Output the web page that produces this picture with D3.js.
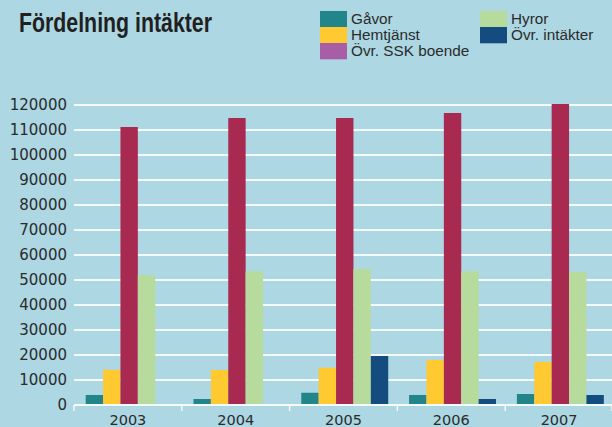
<!DOCTYPE html>
<html>
<head>
<meta charset="utf-8">
<script src="https://cdn.jsdelivr.net/npm/d3@7"></script>
<style>
    body { margin: 0; background: #acd7e3; }
    svg { display: block; }
</style>
</head>
<body>
<div id="chart-container"></div>
<script>
// data
var years = ["2003", "2004", "2005", "2006", "2007"];
var series = ["Gåvor", "Hemtjänst", "Övr. SSK boende", "Hyror", "Övr. intäkter"];
var gavor = [4000, 2400, 4900, 4000, 4400];
var hemtjanst = [14100, 14000, 14900, 18000, 17200];
var ssk = [111200, 114800, 114800, 116800, 120400];
var hyror = [52000, 53500, 54400, 53500, 53200];
var ovrigt = [400, 400, 19600, 2400, 4000];
var yTicks = [0, 10000, 20000, 30000, 40000, 50000, 60000, 70000, 80000, 90000, 100000, 110000, 120000];

var barColors = ["#22858a", "#fec931", "#a92a50", "#b6db9c", "#144c80"];
// legend swatch for SSK boende is purple in the original
var legendColors = ["#22858a", "#fec931", "#a85ea6", "#b6db9c", "#144c80"];

var values = [gavor, hemtjanst, ssk, hyror, ovrigt];

var width = 612, height = 427;
var svg = d3.select("#chart-container").append("svg")
    .attr("width", width)
    .attr("height", height);

svg.append("rect")
    .attr("width", width)
    .attr("height", height)
    .attr("fill", "#acd7e3");

// title
svg.append("text")
    .attr("x", 19)
    .attr("y", 32)
    .attr("font-family", "'Liberation Sans Narrow', 'Liberation Sans', Arial, sans-serif")
    .attr("font-weight", "bold")
    .attr("font-size", 27)
    .attr("fill", "#231f20")
    .attr("textLength", 193)
    .attr("lengthAdjust", "spacingAndGlyphs")
    .text("Fördelning intäkter");

// legend, two columns
var legendPos = [[320, 11], [320, 27], [320, 43], [480, 11], [480, 27]];
var legend = svg.append("g");
series.forEach(function(s, i) {
    var p = legendPos[i];
    legend.append("rect")
        .attr("x", p[0])
        .attr("y", p[1])
        .attr("width", 27)
        .attr("height", 16.3)
        .attr("fill", legendColors[i]);
    legend.append("text")
        .attr("x", p[0] + 31)
        .attr("y", p[1] + 13)
        .attr("font-family", "'Liberation Sans', Arial, sans-serif")
        .attr("font-size", 15.3)
        .attr("fill", "#2b2b2b")
        .text(s);
});

// scales
var x0 = d3.scaleBand()
    .domain(years)
    .range([74, 613]);
var x1 = d3.scaleBand()
    .domain(series)
    .range([0, x0.bandwidth()])
    .paddingInner(0)
    .paddingOuter(0.6)
    .align(0.56);
var y = d3.scaleLinear()
    .domain([0, 120000])
    .range([405, 105]);

// gridlines
svg.append("g")
    .selectAll("line")
    .data(yTicks.filter(d => d > 0))
    .enter()
    .append("line")
    .attr("x1", 74)
    .attr("x2", width)
    .attr("y1", d => y(d))
    .attr("y2", d => y(d))
    .attr("stroke", "#f4f9fb")
    .attr("stroke-width", 2);

// y labels
svg.append("g")
    .selectAll("text")
    .data(yTicks)
    .enter()
    .append("text")
    .attr("x", 67)
    .attr("y", d => y(d))
    .attr("dy", "0.36em")
    .attr("text-anchor", "end")
    .attr("font-family", "'DejaVu Sans', sans-serif")
    .attr("font-size", 15)
    .attr("fill", "#2b2b2b")
    .text(d => d);

// bars
var groups = svg.append("g")
    .selectAll("g")
    .data(years)
    .enter()
    .append("g")
    .attr("transform", d => `translate(${x0(d)},0)`);

groups.selectAll("rect")
    .data((yr, j) => series.map((s, i) => ({ s: s, i: i, v: values[i][j] })))
    .enter()
    .append("rect")
    .attr("x", d => x1(d.s))
    .attr("y", d => y(d.v))
    .attr("width", x1.bandwidth())
    .attr("height", d => y(0) - y(d.v))
    .attr("fill", d => barColors[d.i]);

// x axis
var xAxis = svg.append("g")
    .attr("transform", "translate(0,405)");
xAxis.append("line")
    .attr("x1", 74)
    .attr("x2", width)
    .attr("stroke", "#f4f9fb")
    .attr("stroke-width", 2);
xAxis.selectAll(".tk")
    .data(years.concat(["end"]))
    .enter()
    .append("line")
    .attr("x1", d => d == "end" ? 612 : x0(d))
    .attr("x2", d => d == "end" ? 612 : x0(d))
    .attr("y1", 0)
    .attr("y2", 6)
    .attr("stroke", "#f4f9fb")
    .attr("stroke-width", 1.5);
xAxis.selectAll("text")
    .data(years)
    .enter()
    .append("text")
    .attr("x", d => x0(d) + x0.bandwidth() / 2)
    .attr("y", 20)
    .attr("text-anchor", "middle")
    .attr("font-family", "'DejaVu Sans', sans-serif")
    .attr("font-size", 14.5)
    .attr("fill", "#2b2b2b")
    .text(d => d);
</script>
</body>
</html>
